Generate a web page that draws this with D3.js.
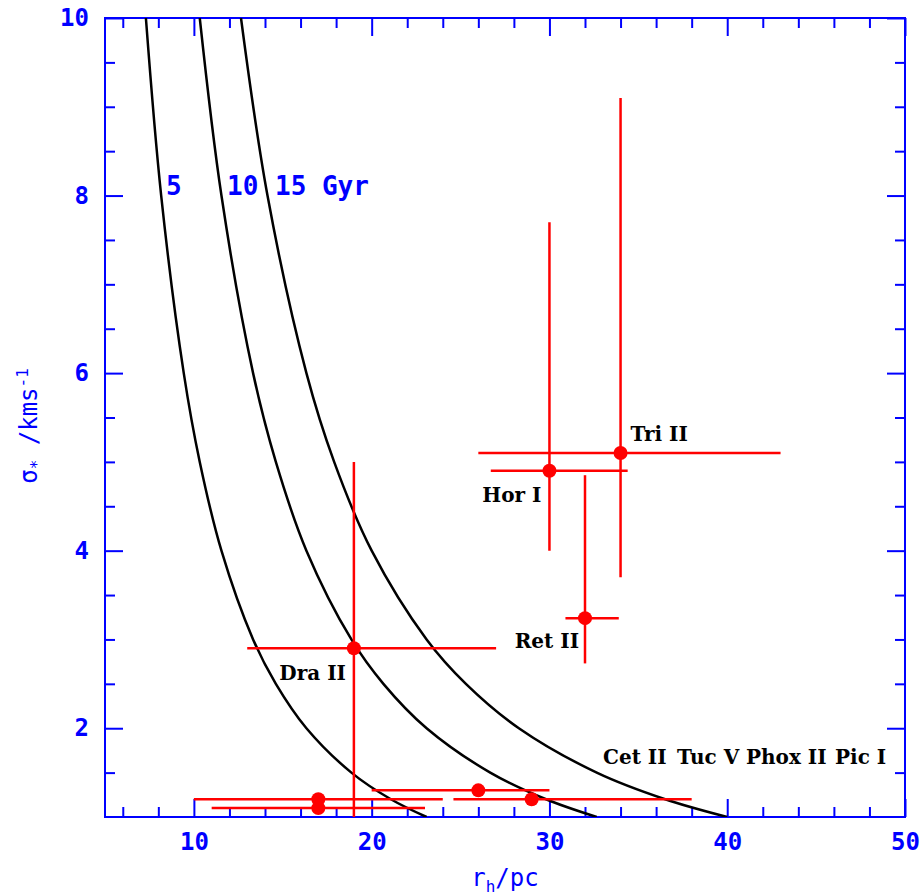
<!DOCTYPE html>
<html>
<head>
<meta charset="utf-8">
<script src="https://cdn.jsdelivr.net/npm/d3@7"></script>
<style>
  html, body { margin: 0; padding: 0; background: #fff; }
  svg { display: block; }
</style>
</head>
<body>
<svg id="chart" width="922" height="895"></svg>
<script>
// ---------- DATA ----------
const galaxies   = ["Tri II", "Hor I", "Ret II", "Dra II", "Cet II", "Tuc V", "Phox II", "Pic I"];
const rh         = [34, 30, 32, 19, 17, 17, 26, 29];
const rhLow      = [26.0, 26.7, 30.9, 13.0, 10.0, 11.0, 20.0, 24.6];
const rhHigh     = [43.0, 34.4, 33.9, 27.0, 24.0, 23.0, 30.0, 38.0];
const sigma      = [5.1, 4.9, 3.24, 2.9, 1.2, 1.1, 1.3, 1.2];
const sigmaLow   = [3.7, 4.0, 2.73, 1.0, null, null, null, null];
const sigmaHigh  = [9.1, 7.7, 4.85, 5.0, null, null, null, null];

// Relaxation-age curves: [r_h, sigma]
const ageLabels = ["5", "10", "15 Gyr"];
const curve5  = [[7.30,10],[8.16,8],[9.43,6],[10.33,5],[11.55,4],[13.33,3],[14.61,2.5],[16.33,2],[18.86,1.5],[21.08,1.2],[23.09,1]];
const curve10 = [[10.33,10],[11.55,8],[13.33,6],[14.61,5],[16.33,4],[18.86,3],[20.66,2.5],[23.09,2],[26.67,1.5],[29.81,1.2],[32.66,1]];
const curve15 = [[12.65,10],[14.14,8],[16.33,6],[17.89,5],[20.0,4],[23.09,3],[25.30,2.5],[28.28,2],[32.66,1.5],[36.51,1.2],[40.0,1]];

const xMajorTicks = [10, 20, 30, 40, 50];
const xMinorTicks = [6, 8, 12, 14, 16, 18, 22, 24, 26, 28, 32, 34, 36, 38, 42, 44, 46, 48];
const yMajorTicks = [2, 4, 6, 8, 10];
const yMinorTicks = [1.5, 2.5, 3, 3.5, 4.5, 5, 5.5, 6.5, 7, 7.5, 8.5, 9, 9.5];

// ---------- LAYOUT ----------
const L = 105, R = 905, T = 18, B = 817;
const BLUE = "#0000ff", RED = "#ff0000";
const svg = d3.select("#chart");

const x = d3.scaleLinear().domain([5, 50]).range([L, R]);
const y = d3.scaleLinear().domain([1, 10]).range([B, T]);

const tickFont = "'DejaVu Sans Mono', monospace";

function styleAxis(g) {
  g.select(".domain").remove();
  g.selectAll("line").attr("stroke", BLUE).attr("stroke-width", 2);
  g.selectAll("text").attr("fill", BLUE).attr("font-family", tickFont)
   .attr("font-size", 24).attr("font-weight", "bold");
}

// bottom axis (major with labels, minor)
svg.append("g").attr("transform", `translate(0,${B})`)
  .call(d3.axisBottom(x).tickValues(xMajorTicks).tickSizeInner(-18).tickSizeOuter(0).tickPadding(16).tickFormat(d => d3.format("d")(d)))
  .call(styleAxis);
svg.append("g").attr("transform", `translate(0,${B})`)
  .call(d3.axisBottom(x).tickValues(xMinorTicks).tickSizeInner(-10).tickSizeOuter(0).tickFormat(""))
  .call(styleAxis);
// top axis
svg.append("g").attr("transform", `translate(0,${T})`)
  .call(d3.axisTop(x).tickValues(xMajorTicks).tickSizeInner(-18).tickSizeOuter(0).tickFormat(""))
  .call(styleAxis);
svg.append("g").attr("transform", `translate(0,${T})`)
  .call(d3.axisTop(x).tickValues(xMinorTicks).tickSizeInner(-10).tickSizeOuter(0).tickFormat(""))
  .call(styleAxis);
// left axis
svg.append("g").attr("transform", `translate(${L},0)`)
  .call(d3.axisLeft(y).tickValues(yMajorTicks).tickSizeInner(-18).tickSizeOuter(0).tickPadding(16).tickFormat(d => d3.format("d")(d)))
  .call(styleAxis);
svg.append("g").attr("transform", `translate(${L},0)`)
  .call(d3.axisLeft(y).tickValues(yMinorTicks).tickSizeInner(-10).tickSizeOuter(0).tickFormat(""))
  .call(styleAxis);
// right axis
svg.append("g").attr("transform", `translate(${R},0)`)
  .call(d3.axisRight(y).tickValues(yMajorTicks).tickSizeInner(-18).tickSizeOuter(0).tickFormat(""))
  .call(styleAxis);
svg.append("g").attr("transform", `translate(${R},0)`)
  .call(d3.axisRight(y).tickValues(yMinorTicks).tickSizeInner(-10).tickSizeOuter(0).tickFormat(""))
  .call(styleAxis);

// frame
svg.append("rect").attr("x", L).attr("y", T).attr("width", R - L).attr("height", B - T)
  .attr("fill", "none").attr("stroke", BLUE).attr("stroke-width", 2);

// clip
svg.append("clipPath").attr("id", "plotclip").append("rect")
  .attr("x", L).attr("y", T).attr("width", R - L).attr("height", B - T);

const plot = svg.append("g").attr("clip-path", "url(#plotclip)");

// curves
const line = d3.line().x(d => x(d[0])).y(d => y(d[1])).curve(d3.curveCatmullRom.alpha(0.5));
[curve5, curve10, curve15].forEach(c => {
  plot.append("path").attr("d", line(c)).attr("fill", "none")
    .attr("stroke", "#000").attr("stroke-width", 2.5);
});

// error bars and points
const idx = d3.range(galaxies.length);
plot.selectAll("line.xerr").data(idx).join("line").attr("class", "xerr")
  .attr("x1", i => x(rhLow[i])).attr("x2", i => x(rhHigh[i]))
  .attr("y1", i => y(sigma[i])).attr("y2", i => y(sigma[i]))
  .attr("stroke", RED).attr("stroke-width", 2.5);
plot.selectAll("line.yerr").data(idx.filter(i => sigmaLow[i] !== null)).join("line").attr("class", "yerr")
  .attr("x1", i => x(rh[i])).attr("x2", i => x(rh[i]))
  .attr("y1", i => y(sigmaLow[i])).attr("y2", i => y(sigmaHigh[i]))
  .attr("stroke", RED).attr("stroke-width", 2.5);
plot.selectAll("circle.pt").data(idx).join("circle").attr("class", "pt")
  .attr("cx", i => x(rh[i])).attr("cy", i => y(sigma[i])).attr("r", 7)
  .attr("fill", RED);

// galaxy labels
const labFont = "'DejaVu Serif', serif";
const labOffsets = [
  {dx: 10, dy: -12, anchor: "start"},
  {dx: -8, dy: 31, anchor: "end"},
  {dx: -6, dy: 30, anchor: "end"},
  {dx: -8, dy: 32, anchor: "end"}
];
labOffsets.forEach((o, i) => {
  svg.append("text").attr("x", x(rh[i]) + o.dx).attr("y", y(sigma[i]) + o.dy)
    .attr("text-anchor", o.anchor).attr("font-family", labFont).attr("font-weight", "bold")
    .attr("font-size", 20).attr("fill", "#000").text(galaxies[i]);
});
// row of labels for the low-sigma galaxies
const rowX = [603, 677, 746, 835];
galaxies.slice(4).forEach((g, k) => {
  svg.append("text").attr("x", rowX[k]).attr("y", 764)
    .attr("font-family", labFont).attr("font-weight", "bold")
    .attr("font-size", 20).attr("fill", "#000").text(g);
});

// age labels
const ageX = [166, 227, 275];
ageLabels.forEach((t, k) => {
  svg.append("text").attr("x", ageX[k]).attr("y", 195)
    .attr("font-family", tickFont).attr("font-weight", "bold")
    .attr("font-size", 26).attr("fill", BLUE).text(t);
});

// axis titles
const xt = svg.append("text").attr("x", (L + R) / 2).attr("y", 886)
  .attr("text-anchor", "middle").attr("font-family", tickFont)
  .attr("font-size", 24).attr("fill", BLUE);
xt.append("tspan").text("r");
xt.append("tspan").attr("font-size", 16).attr("dy", 6).text("h");
xt.append("tspan").attr("dy", -6).text("/pc");

const yt = svg.append("text").attr("transform", `translate(37,426) rotate(-90)`)
  .attr("text-anchor", "middle").attr("font-family", tickFont)
  .attr("font-size", 24).attr("fill", BLUE);
yt.append("tspan").text("σ");
yt.append("tspan").attr("font-size", 16).attr("dy", 5).text("*");
yt.append("tspan").attr("dy", -5).text(" /kms");
yt.append("tspan").attr("font-size", 16).attr("dy", -9).text("-1");
</script>
</body>
</html>
